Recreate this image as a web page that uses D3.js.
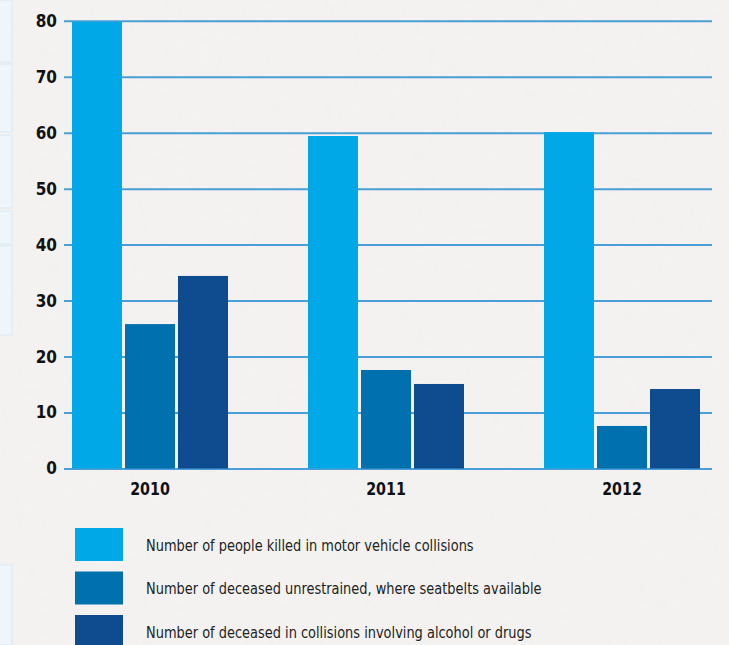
<!DOCTYPE html>
<html>
<head>
<meta charset="utf-8">
<script src="https://d3js.org/d3.v7.min.js"></script>
<style>
  html, body { margin: 0; padding: 0; background: #f3f2f1; }
  svg { display: block; }
  .axis text { font-family: "Liberation Sans Narrow", "DejaVu Sans Condensed", sans-serif; font-weight: bold; font-size: 17px; fill: #111; }
</style>
</head>
<body>
<svg id="chart"></svg>
<script>
// data
const years = ["2010", "2011", "2012"];
const series = [
  "Number of people killed in motor vehicle collisions",
  "Number of deceased unrestrained, where seatbelts available",
  "Number of deceased in collisions involving alcohol or drugs"
];
const killed = [79.8, 59.4, 60.1];
const unrestrained = [25.8, 17.6, 7.6];
const alcoholDrugs = [34.4, 15.1, 14.2];
const yTicks = [0, 10, 20, 30, 40, 50, 60, 70, 80];

const colors = ["#00a8e8", "#0070ae", "#0f4c8f"];

const width = 729, height = 645;
const svg = d3.select("#chart").attr("width", width).attr("height", height);

// background with a faint paper texture
const defs = svg.append("defs");
const f = defs.append("filter").attr("id", "paper");
f.append("feTurbulence").attr("type", "fractalNoise").attr("baseFrequency", 0.08).attr("numOctaves", 2).attr("seed", 3);
f.append("feColorMatrix").attr("values", "0 0 0 0 0.5  0 0 0 0 0.5  0 0 0 0 0.5  0 0 0 0.04 0");
svg.append("rect").attr("width", width).attr("height", height).attr("fill", "#f4f3f2");
svg.append("rect").attr("width", width).attr("height", height).attr("filter", "url(#paper)");

// pale blocks on the left edge
const edgeBlocks = [[0, 62], [64, 132], [135, 208], [211, 244], [246, 335], [565, 645]];
svg.append("g").selectAll("rect").data(edgeBlocks).join("rect")
  .attr("x", -1).attr("y", d => d[0]).attr("width", 13).attr("height", d => d[1] - d[0])
  .attr("fill", "#eef6fc").attr("stroke", "#d8e9f5").attr("stroke-width", 1);

const y = d3.scaleLinear().domain([0, 80]).range([468.5, 20.7]);
const x0 = d3.scaleBand().domain(years).range([72, 700]).paddingInner(0.339);
const x1 = d3.scaleBand().domain(d3.range(series.length)).range([0, x0.bandwidth()]).paddingInner(0.0566);

const gridLeft = 64, gridRight = 712;

// gridlines + y labels
const yAxis = svg.append("g").attr("class", "axis")
  .attr("transform", `translate(${gridLeft},0)`)
  .call(d3.axisLeft(y).tickValues(yTicks).tickSize(-(gridRight - gridLeft)).tickPadding(7).tickFormat(d3.format("d")));
yAxis.select(".domain").remove();
yAxis.selectAll(".tick line").attr("stroke", "#4b9fd6").attr("stroke-width", 2);

// bars
const values = [killed, unrestrained, alcoholDrugs];
const groups = svg.append("g").selectAll("g").data(years).join("g")
  .attr("transform", d => `translate(${x0(d)},0)`);
groups.selectAll("rect")
  .data((yr, i) => values.map((v, s) => ({ s, v: v[i] })))
  .join("rect")
  .attr("x", d => x1(d.s))
  .attr("y", d => y(d.v))
  .attr("width", x1.bandwidth())
  .attr("height", d => y(0) - y(d.v))
  .attr("fill", d => colors[d.s]);

// year labels
const xAxis = svg.append("g").attr("class", "axis")
  .attr("transform", `translate(0,${y(0)})`)
  .call(d3.axisBottom(x0).tickSize(0).tickPadding(10));
xAxis.select(".domain").remove();
xAxis.selectAll("text").style("font-size", "18px").attr("dy", "0.9em").attr("transform", "scale(0.88,1)");

// legend
const legend = svg.append("g").selectAll("g").data(series).join("g")
  .attr("transform", (d, i) => `translate(75,${528 + i * 43.5})`);
legend.append("rect").attr("width", 48).attr("height", 33).attr("fill", (d, i) => colors[i]);
legend.append("text")
  .attr("transform", "translate(71,17) scale(0.9,1)")
  .attr("dy", "0.35em")
  .style("font-family", "\"Liberation Sans Narrow\", \"DejaVu Sans Condensed\", sans-serif")
  .style("font-size", "16px").attr("fill", "#222")
  .text(d => d);
</script>
</body>
</html>
